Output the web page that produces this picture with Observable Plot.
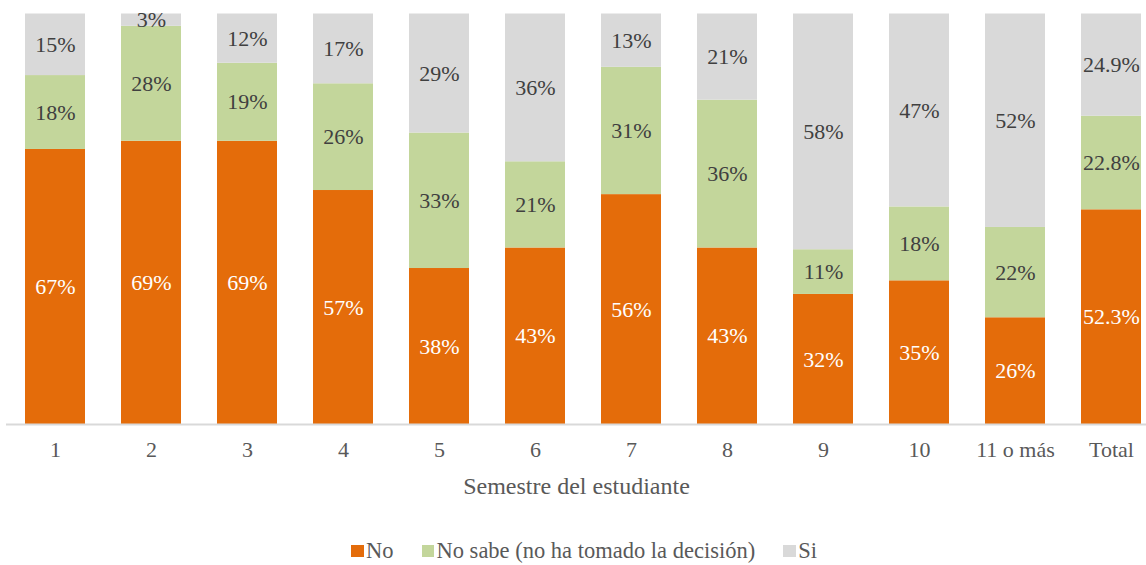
<!DOCTYPE html>
<html>
<head>
<meta charset="utf-8">
<script src="https://cdn.jsdelivr.net/npm/d3@7"></script>
<script src="https://cdn.jsdelivr.net/npm/@observablehq/plot@0.6"></script>
<style>
  html, body { margin: 0; padding: 0; background: #fff; }
  body { width: 1146px; height: 565px; overflow: hidden; font-family: 'Liberation Serif', 'DejaVu Serif', 'Times New Roman', serif; }
  #chart svg, #chart svg text { font-family: 'Liberation Serif', 'DejaVu Serif', 'Times New Roman', serif !important; }
  #legend { display: flex; align-items: center; margin-left: 351px; margin-top: 13px; height: 26px; font-size: 22.5px; color: #595959; }
  .item { display: flex; align-items: center; margin-right: 28px; }
  .sw { width: 12.5px; height: 12.5px; margin-right: 2.5px; }
</style>
</head>
<body>
<div id="chart"></div>
<div id="legend"></div>
<script>
const categories = ["1", "2", "3", "4", "5", "6", "7", "8", "9", "10", "11 o más", "Total"];
const seriesNames = ["No", "No sabe (no ha tomado la decisión)", "Si"];
const no = [67, 69, 69, 57, 38, 43, 56, 43, 32, 35, 26, 52.3];
const noSabe = [18, 28, 19, 26, 33, 21, 31, 36, 11, 18, 22, 22.8];
const si = [15, 3, 12, 17, 29, 36, 13, 21, 58, 47, 52, 24.9];
const colors = ["#E46C0A", "#C3D69B", "#D9D9D9"];
const axisTitle = "Semestre del estudiante";

const seriesValues = [no, noSabe, si];
const data = [];
seriesNames.forEach((s, i) => {
  categories.forEach((c, j) => {
    data.push({ cat: c, series: s, value: seriesValues[i][j], label: seriesValues[i][j] + "%" });
  });
});

const chart = Plot.plot({
  width: 1146,
  height: 525,
  marginTop: 13.5,
  marginBottom: 101,
  marginLeft: 6,
  marginRight: 0,
  style: { background: "#fff", overflow: "hidden" },
  x: { domain: categories, range: [5.5, 1159.2], paddingInner: 0.38, paddingOuter: 0.19, axis: null },
  y: { domain: [0, 1], axis: null },
  color: { domain: seriesNames, range: colors },
  marks: [
    Plot.barY(data, Plot.stackY({ x: "cat", y: "value", z: "series", fill: "series", offset: "normalize", order: null })),
    Plot.text(data, Plot.stackY({
      x: "cat", y: "value", z: "series", offset: "normalize", order: null,
      text: "label",
      fill: d => d.series === "No" ? "#FFFFFF" : "#404040",
      fontSize: 22
    })),
    Plot.ruleY([0], { stroke: "#D9D9D9", strokeWidth: 2 }),
    Plot.axisX({ domain: categories, tickSize: 0, tickPadding: 17, fontSize: 22, color: "#595959", label: null }),
    Plot.text([axisTitle], { frameAnchor: "bottom", dy: 69, fontSize: 24, fill: "#595959" })
  ]
});
document.getElementById("chart").appendChild(chart);

const legend = document.getElementById("legend");
seriesNames.forEach((s, i) => {
  const item = document.createElement("div");
  item.className = "item";
  const sw = document.createElement("span");
  sw.className = "sw";
  sw.style.background = colors[i];
  const t = document.createElement("span");
  t.textContent = s;
  item.appendChild(sw);
  item.appendChild(t);
  legend.appendChild(item);
});
</script>
</body>
</html>
